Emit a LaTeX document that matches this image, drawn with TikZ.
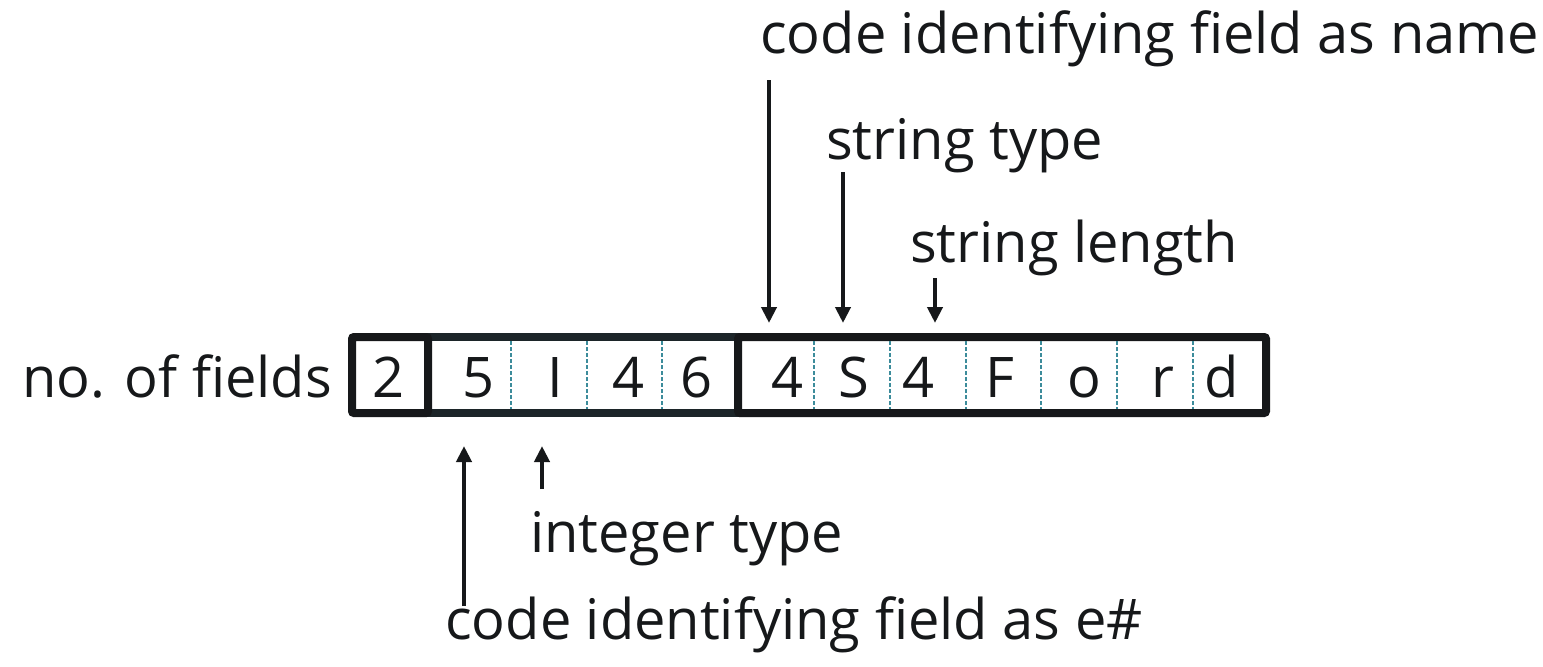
\documentclass[tikz,border=0pt]{standalone}
\usepackage{fontspec}
\setmainfont{Open Sans}
\usetikzlibrary{arrows.meta}
\definecolor{ink}{RGB}{22,24,26}
\definecolor{slate}{RGB}{28,37,41}
\definecolor{teal}{RGB}{60,140,155}
\tikzset{
  grp/.style={draw=ink, line width=8pt, rounded corners=2pt},
  grpmid/.style={draw=slate, line width=8pt},
  divider/.style={draw=teal, line width=1.2pt, dash pattern=on 4pt off 2pt},
  cell/.style={anchor=base, inner sep=0pt, font=\fontsize{56}{60}\selectfont, text=ink},
  lbl/.style={inner sep=0pt, font=\fontsize{56}{60}\selectfont, text=ink},
  arr/.style={draw=ink, line width=4pt, -{Triangle[width=15pt,length=16pt]}},
}
\begin{document}
\begin{tikzpicture}[x=1pt,y=-1pt]
\useasboundingbox (0,0) rectangle (1543,667);
% groups
\draw[grpmid] (428,337) rectangle (738,413);
\draw[grp] (352,337) rectangle (428,413);
\draw[grp] (738,337) rectangle (1266,413);
% dividers
\foreach \x in {511,587,662,814,890,966,1041,1117,1193}
  \draw[divider] (\x,341) -- (\x,409);
% cell texts
\node[cell] (c0) at (389,397) {2};
\node[cell] (c1) at (479,397) {5};
\node[cell] (c2) at (555,397) {I};
\node[cell] (c3) at (629,397) {4};
\node[cell] (c4) at (697,397) {6};
\node[cell] (c5) at (788,397) {4};
\node[cell] (c6) at (854,397) {S};
\node[cell] (c7) at (919,397) {4};
\node[cell] (c8) at (1000,397) {F};
\node[cell] (c9) at (1084,397) {o};
\node[cell] (c10) at (1163,397) {r};
\node[cell] (c11) at (1222,397) {d};
% labels
\node[lbl, anchor=base east] (nof) at (332,397) {no. of fields};
\node[lbl, anchor=base west] (lname) at (760,53) {code identifying field as name};
\node[lbl, anchor=base west] (lstype) at (826,159) {string type};
\node[lbl, anchor=base west] (lslen) at (910,262) {string length};
\node[lbl, anchor=base west] (lint) at (530,552) {integer type};
\node[lbl, anchor=base west] (lenum) at (445,639) {code identifying field as e\#};
% arrow coordinates
\coordinate (a1s) at (769,80);  \coordinate (a1e) at (769,323);
\coordinate (a2s) at (843,172); \coordinate (a2e) at (843,323);
\coordinate (a3s) at (935,278); \coordinate (a3e) at (935,323);
\coordinate (b1s) at (464,606); \coordinate (b1e) at (464,446);
\coordinate (b2s) at (542,489); \coordinate (b2e) at (542,446);
\draw[arr] (a1s) -- (a1e);
\draw[arr] (a2s) -- (a2e);
\draw[arr] (a3s) -- (a3e);
\draw[arr] (b1s) -- (b1e);
\draw[arr] (b2s) -- (b2e);
\end{tikzpicture}
\end{document}
